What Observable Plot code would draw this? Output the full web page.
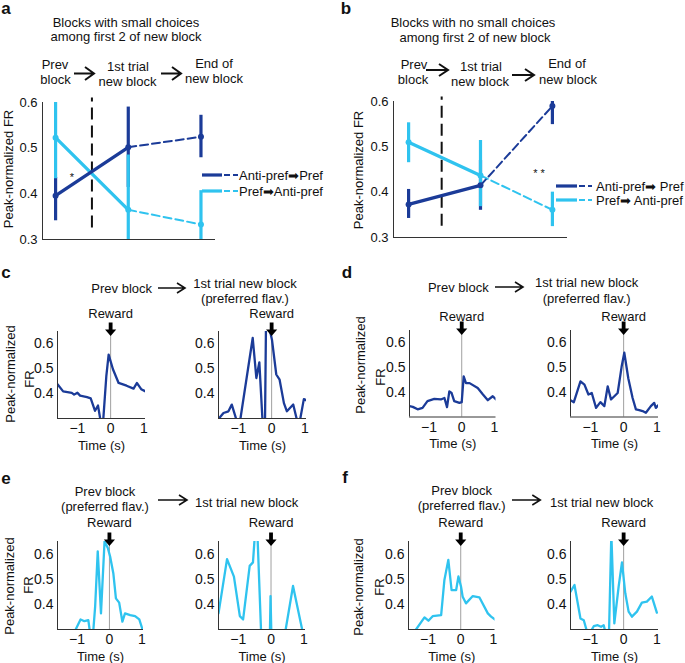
<!DOCTYPE html>
<html>
<head>
<meta charset="utf-8">
<script src="https://cdn.jsdelivr.net/npm/d3@7"></script>
<script src="https://cdn.jsdelivr.net/npm/@observablehq/plot@0.6"></script>
<style>
  html, body { margin: 0; padding: 0; background: #fff; }
  #root { position: relative; width: 685px; height: 663px; overflow: hidden; background: #fff;
          font-family: 'Liberation Sans', Arial, Helvetica, sans-serif; color: #111; }
</style>
</head>
<body>
<div id="root"></div>
<script>
// ---------- DATA ----------
const stagePos = [0, 1, 2]; // Prev block, 1st trial new block, End of new block
// Panel a: blocks with small choices among first 2 of new block
const aAntiMean = [0.396, 0.502, 0.525];
const aAntiLo   = [0.341, 0.414, 0.479];
const aAntiHi   = [0.436, 0.590, 0.572];
const aPrefMean = [0.523, 0.365, 0.333];
const aPrefLo   = [0.433, 0.245, 0.258];
const aPrefHi   = [0.613, 0.485, 0.407];
const aBoundary = [0.5];
// Panel b: blocks with no small choices among first 2 of new block
const bAntiMean = [0.373, 0.415, 0.590];
const bAntiLo   = [0.342, 0.360, 0.549];
const bAntiHi   = [0.406, 0.470, 0.630];
const bPrefMean = [0.510, 0.437, 0.361];
const bPrefLo   = [0.465, 0.368, 0.324];
const bPrefHi   = [0.553, 0.514, 0.400];
const bBoundary = [0.46];
const trendTicks = [0.3, 0.4, 0.5, 0.6];

// Panels c-f: peri-reward firing rate traces
const cPrevT  = [-1.6,-1.43,-1.17,-1.1,-1.0,-0.92,-0.71,-0.6,-0.47,-0.38,-0.29,-0.23,-0.13,-0.06,0.07,0.24,0.48,0.69,0.79,0.92,1.05];
const cPrevFR = [0.438,0.409,0.403,0.396,0.404,0.392,0.386,0.381,0.331,0.352,0.28,0.28,0.47,0.557,0.498,0.443,0.432,0.42,0.443,0.418,0.409];
const cNewT   = [-1.6,-1.45,-1.3,-1.2,-1.05,-0.95,-0.57,-0.46,-0.37,-0.27,-0.2,-0.17,-0.08,0.01,0.14,0.24,0.37,0.46,0.65,0.77,0.85,0.97,1.05];
const cNewFR  = [0.298,0.322,0.329,0.356,0.29,0.29,0.624,0.463,0.526,0.28,0.28,0.68,0.67,0.617,0.477,0.456,0.362,0.329,0.356,0.29,0.29,0.378,0.373];
const dPrevT  = [-1.6,-1.5,-1.35,-1.2,-1.05,-0.84,-0.64,-0.53,-0.45,-0.38,-0.31,-0.23,-0.07,0,0.06,0.13,0.24,0.49,0.65,0.8,0.95,1.05];
const dPrevFR = [0.344,0.341,0.331,0.337,0.364,0.373,0.371,0.377,0.34,0.404,0.397,0.364,0.357,0.36,0.464,0.437,0.437,0.417,0.391,0.368,0.384,0.371];
const dNewT   = [-1.6,-1.5,-1.3,-1.18,-1.06,-0.96,-0.83,-0.7,-0.58,-0.48,-0.38,-0.18,-0.06,0.02,0.14,0.27,0.37,0.47,0.57,0.67,0.82,0.92,0.97,1.05];
const dNewFR  = [0.368,0.36,0.444,0.431,0.391,0.397,0.337,0.36,0.344,0.424,0.371,0.397,0.504,0.56,0.457,0.377,0.331,0.328,0.324,0.317,0.344,0.357,0.337,0.348];
const ePrevT  = [-1.1,-1.04,-0.89,-0.77,-0.65,-0.6,-0.5,-0.44,-0.36,-0.26,-0.15,-0.05,0.02,0.12,0.2,0.3,0.4,0.48,0.64,0.79,0.92,1.02,1.05];
const ePrevFR = [0.27,0.3,0.34,0.333,0.337,0.29,0.29,0.391,0.611,0.364,0.651,0.624,0.591,0.524,0.424,0.407,0.331,0.364,0.357,0.353,0.34,0.3,0.29];
const eNewT   = [-1.6,-1.34,-1.13,-0.95,-0.85,-0.65,-0.55,-0.48,-0.42,-0.3,-0.1,-0.035,-0.015,0.01,0.2,0.42,0.67,0.98,1.05];
const eNewFR  = [0.364,0.58,0.51,0.353,0.34,0.553,0.567,0.7,0.7,0.28,0.27,0.28,0.433,0.28,0.27,0.28,0.473,0.28,0.27];
const fPrevT  = [-1.42,-1.37,-1.11,-0.99,-0.86,-0.6,-0.5,-0.38,-0.28,-0.14,-0.07,0.01,0.06,0.16,0.37,0.57,0.83,0.93,1.05];
const fPrevFR = [0.27,0.3,0.348,0.335,0.353,0.357,0.497,0.577,0.457,0.457,0.511,0.47,0.43,0.404,0.433,0.428,0.364,0.351,0.34];
const fNewT   = [-1.6,-1.48,-1.3,-1.2,-1.1,-1.0,-0.9,-0.78,-0.68,-0.6,-0.55,-0.44,-0.37,-0.28,-0.15,-0.05,0.05,0.15,0.25,0.4,0.55,0.7,0.85,1.0];
const fNewFR  = [0.451,0.477,0.344,0.337,0.29,0.29,0.313,0.317,0.311,0.317,0.29,0.29,0.68,0.324,0.471,0.567,0.444,0.371,0.351,0.371,0.407,0.411,0.431,0.367];
const timeTicks = [-1, 0, 1];
const frTicks = [0.4, 0.5, 0.6];

// ---------- STYLE ----------
const FONT = "'Liberation Sans', Arial, Helvetica, sans-serif";
const DARK = "#1b3b98";
const CYAN = "#2fc3ef";
const INK = "#111";
const root = document.getElementById("root");
const fmtFR = d3.format(".1f");
const fmtT = d => (d < 0 ? "\u2212" + (-d) : String(d));

function T(str, cx, cy, o = {}) {
  const d = document.createElement("div");
  d.textContent = str;
  const tx = o.left ? "0" : "-50%";
  d.style.cssText = `position:absolute;left:${cx}px;top:${cy}px;white-space:nowrap;line-height:1;` +
    `font-size:${o.size || 13}px;font-weight:${o.bold ? "bold" : "normal"};color:${INK};` +
    `transform:translate(${tx},-50%)${o.rot ? " rotate(-90deg)" : ""};z-index:2;`;
  root.appendChild(d);
}
const NS = "http://www.w3.org/2000/svg";
function hArrow(x1, x2, y, hw, hh, sw) {
  const pad = 3, L = x2 - x1;
  const svg = document.createElementNS(NS, "svg");
  svg.setAttribute("width", L + 2 * pad); svg.setAttribute("height", hh + 2 * pad);
  svg.style.cssText = `position:absolute;left:${x1 - pad}px;top:${y - hh / 2 - pad}px;overflow:visible;z-index:2`;
  const p = document.createElementNS(NS, "path");
  p.setAttribute("d", `M${pad},${pad + hh / 2}H${pad + L - 1}M${pad + L - hw},${pad}L${pad + L},${pad + hh / 2}L${pad + L - hw},${pad + hh}`);
  p.setAttribute("fill", "none"); p.setAttribute("stroke", INK); p.setAttribute("stroke-width", sw);
  svg.appendChild(p); root.appendChild(svg);
}
function legendLine(x1, xs, x2, y, color) {
  const svg = document.createElementNS(NS, "svg");
  svg.setAttribute("width", x2 - x1 + 4); svg.setAttribute("height", 8);
  svg.style.cssText = `position:absolute;left:${x1}px;top:${y - 4}px;overflow:visible;z-index:2`;
  svg.innerHTML = `<line x1="0" x2="${xs - x1}" y1="4" y2="4" stroke="${color}" stroke-width="3.2"/>` +
    `<line x1="${xs - x1 + 2}" x2="${x2 - x1}" y1="4" y2="4" stroke="${color}" stroke-width="2" stroke-dasharray="6,3"/>`;
  root.appendChild(svg);
}
function place(el, left, top) {
  el.style.position = "absolute";
  el.style.left = left + "px";
  el.style.top = top + "px";
  el.style.zIndex = 1;
  root.appendChild(el);
}

// ---------- PANELS a, b ----------
function trend(cfg) {
  const mk = (mean, lo, hi) => stagePos.map((x, i) => ({x, m: mean[i], lo: lo[i], hi: hi[i]}));
  const anti = mk(cfg.antiMean, cfg.antiLo, cfg.antiHi);
  const pref = mk(cfg.prefMean, cfg.prefLo, cfg.prefHi);
  const solid = (rows, c) => Plot.line(rows.filter(r => r.x <= 1), {x: "x", y: "m", stroke: c, strokeWidth: 3.3});
  const dashed = (rows, c) => Plot.line(rows.filter(r => r.x >= 1), {x: "x", y: "m", stroke: c, strokeWidth: 2, strokeDasharray: "8,4"});
  const err = (rows, c) => Plot.ruleX(rows, {x: "x", y1: "lo", y2: "hi", stroke: c, strokeWidth: 3.2, clip: true});
  const dots = (rows, c) => Plot.dot(rows, {x: "x", y: "m", r: 3, fill: c, stroke: null});
  return Plot.plot({
    width: cfg.width, height: 160,
    marginLeft: cfg.ml, marginRight: cfg.mr, marginTop: cfg.mt, marginBottom: cfg.mb,
    x: {domain: cfg.xdom, axis: null},
    y: {domain: [0.3, 0.6]},
    style: {background: "transparent", overflow: "visible", fontFamily: FONT, color: INK},
    marks: [
      Plot.ruleX(cfg.boundary, {y1: 0.325, y2: 0.61, stroke: INK, strokeWidth: 2, strokeDasharray: "12,6"}),
      err(anti, DARK), err(pref, CYAN),
      solid(pref, CYAN), solid(anti, DARK),
      dashed(pref, CYAN), dashed(anti, DARK),
      dots(pref, CYAN), dots(anti, DARK),
      Plot.ruleY([0.3], {stroke: "#333", strokeWidth: 1}),
      Plot.ruleX([cfg.xdom[0]], {stroke: "#333", strokeWidth: 1}),
      Plot.axisY({ticks: trendTicks, tickSize: 0, tickPadding: cfg.tp, fontSize: 13, label: null, tickFormat: fmtFR})
    ]
  });
}
place(trend({width: 340, ml: 42, mr: 125, mt: 12, mb: 11, xdom: [-0.18, 2.2], tp: 5,
  antiMean: aAntiMean, antiLo: aAntiLo, antiHi: aAntiHi,
  prefMean: aPrefMean, prefLo: aPrefLo, prefHi: aPrefHi, boundary: aBoundary}), 0, 90);
place(trend({width: 345, ml: 53, mr: 118, mt: 11, mb: 13, xdom: [-0.21, 2.21], tp: 5,
  antiMean: bAntiMean, antiLo: bAntiLo, antiHi: bAntiHi,
  prefMean: bPrefMean, prefLo: bPrefLo, prefHi: bPrefHi, boundary: bBoundary}), 340, 90);

// ---------- PANELS c-f ----------
const rewardArrow = {
  draw(ctx) {
    ctx.moveTo(-1.9, -9); ctx.lineTo(1.9, -9); ctx.lineTo(1.9, -2);
    ctx.lineTo(5.6, -2); ctx.lineTo(0, 4.5); ctx.lineTo(-5.6, -2);
    ctx.lineTo(-1.9, -2); ctx.closePath();
  }
};
function trace(t, fr, color, fl, ft, fw, fh, rdy) {
  const data = t.map((x, i) => ({t: x, fr: fr[i]}));
  const ML = 40, MT = 32, MR = 10, MB = 40;
  const p = Plot.plot({
    width: fw + ML + MR, height: fh + MT + MB,
    marginLeft: ML, marginTop: MT, marginRight: MR, marginBottom: MB,
    x: {domain: [-1.6, 1.05]},
    y: {domain: [0.3, 0.65]},
    style: {background: "transparent", overflow: "visible", fontFamily: FONT, color: INK},
    marks: [
      Plot.ruleX([0], {stroke: "#a0a0a0", strokeWidth: 1}),
      Plot.line(data, {x: "t", y: "fr", stroke: color, strokeWidth: 2.3, clip: true}),
      Plot.ruleX([-1.6], {stroke: "#333", strokeWidth: 1}),
      Plot.ruleY([0.3], {stroke: "#333", strokeWidth: 1}),
      Plot.axisX({ticks: timeTicks, tickSize: 0, tickPadding: 5, fontSize: 14, label: null, tickFormat: fmtT}),
      Plot.axisY({ticks: frTicks, tickSize: 0, tickPadding: 4, fontSize: 14, label: null, tickFormat: fmtFR}),
      Plot.text(["Time (s)"], {text: d => d, frameAnchor: "bottom", lineAnchor: "middle", dy: 27, fontSize: 13}),
      Plot.text([0], {x: d => d, text: () => "Reward", frameAnchor: "top", lineAnchor: "middle", dy: rdy, fontSize: 13}),
      Plot.dot([0], {x: d => d, frameAnchor: "top", symbol: rewardArrow, r: 5, fill: "#000", stroke: null})
    ]
  });
  place(p, fl - ML, ft - MT);
}
trace(cPrevT, cPrevFR, DARK, 57, 330.5, 88, 87, -17.5);
trace(cNewT,  cNewFR,  DARK, 218.3, 330.5, 88, 87, -17.5);
trace(dPrevT, dPrevFR, DARK, 408.5, 330, 86.5, 86.5, -14);
trace(dNewT,  dNewFR,  DARK, 569.5, 330, 88, 86.5, -14);
trace(ePrevT, ePrevFR, CYAN, 56.5, 541, 86, 88, -18.5);
trace(eNewT,  eNewFR,  CYAN, 218.3, 541, 87, 88, -18.5);
trace(fPrevT, fPrevFR, CYAN, 407.7, 541, 86.5, 88, -18.5);
trace(fNewT,  fNewFR,  CYAN, 570, 541, 88, 88, -18.5);

// ---------- TEXT ----------
// panel a
T("a", 6, 8, {bold: true, size: 17});
T("Blocks with small choices", 126, 21.5);
T("among first 2 of new block", 126, 36);
T("Prev", 55, 63.5); T("block", 55.5, 78.5);
T("1st trial", 128, 66); T("new block", 127.5, 81);
T("End of", 214, 62.5); T("new block", 214, 78);
hArrow(74, 94, 73, 9, 13, 2);
hArrow(161, 181, 73, 9, 13, 2);
T("Peak-normalized FR", 8, 169, {rot: true});
T("*", 72, 177, {size: 11});
legendLine(202, 222, 238, 174.5, DARK);
legendLine(202, 222, 238, 190.5, CYAN);
T("Anti-pref\u27A1Pref", 239, 174.5, {left: true});
T("Pref\u27A1Anti-pref", 239, 190.5, {left: true});
// panel b
T("b", 346, 8, {bold: true, size: 17});
T("Blocks with no small choices", 473, 21.5);
T("among first 2 of new block", 475, 36.5);
T("Prev", 414, 64); T("block", 413, 79);
T("1st trial", 481, 66); T("new block", 480, 81);
T("End of", 567, 62.5); T("new block", 568, 78.5);
hArrow(426, 448, 70, 9, 12, 2);
hArrow(512, 534, 75, 9, 12, 2);
T("Peak-normalized FR", 358, 169.5, {rot: true});
T("* *", 539, 173, {size: 11});
legendLine(556, 577, 592, 186, DARK);
legendLine(556, 577, 592, 199.5, CYAN);
T("Anti-pref\u27A1 Pref", 596, 186, {left: true});
T("Pref\u27A1 Anti-pref", 596, 199.5, {left: true});
// panel c
T("c", 6, 271.5, {bold: true, size: 17});
T("Prev block", 121.7, 288.3);
hArrow(158, 185, 288, 8, 10, 1.6);
T("1st trial new block", 245, 283.3);
T("(preferred flav.)", 245, 298.3);
T("Peak-normalized", 10, 374, {rot: true});
T("FR", 28.5, 379, {rot: true});
// panel d
T("d", 347, 271.5, {bold: true, size: 17});
T("Prev block", 458.3, 287);
hArrow(495, 523, 287, 8, 10, 1.6);
T("1st trial new block", 586.7, 281.7);
T("(preferred flav.)", 586.7, 297.7);
T("Peak-normalized", 360, 365, {rot: true});
T("FR", 380, 377, {rot: true});
// panel e
T("e", 6, 477.5, {bold: true, size: 17});
T("Prev block", 105, 490.5);
T("(preferred flav.)", 105, 506);
hArrow(158, 187, 500, 8, 10, 1.6);
T("1st trial new block", 246.7, 501.7);
T("Peak-normalized", 9, 586, {rot: true});
T("FR", 28, 585, {rot: true});
// panel f
T("f", 345, 477, {bold: true, size: 17});
T("Prev block", 461.7, 489.5);
T("(preferred flav.)", 461.7, 505);
hArrow(511.7, 540, 500, 8, 10, 1.6);
T("1st trial new block", 601.7, 501.7);
T("Peak-normalized", 358, 587, {rot: true});
T("FR", 379, 587, {rot: true});
</script>
</body>
</html>
